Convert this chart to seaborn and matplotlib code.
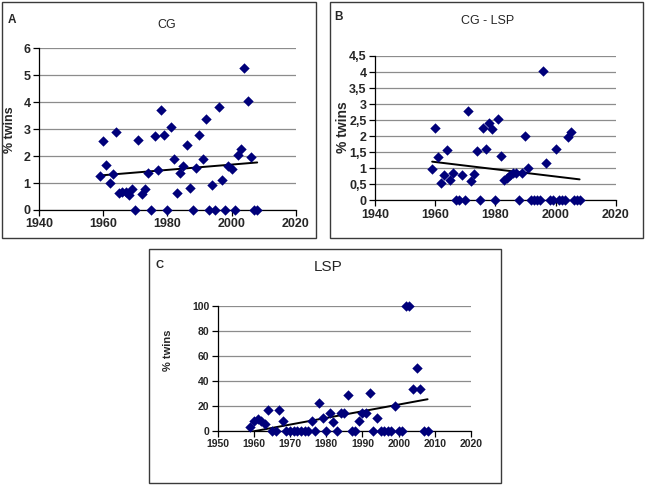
import numpy as np
import pandas as pd
import matplotlib
matplotlib.use("Agg")
import matplotlib.pyplot as plt
from matplotlib.patches import Rectangle
from matplotlib.ticker import FuncFormatter
import seaborn as sns

years = list(range(1959, 2009))

cg_values = [1.26, 2.56, 1.68, 1.0, 1.34, 2.91, 0.62, 0.68, 0.66, 0.55,
             0.77, 0.0, 2.6, 0.58, 0.77, 1.38, 0.0, 2.76, 1.5, 3.72,
             2.77, 0.0, 3.07, 1.88, 0.62, 1.36, 1.65, 2.41, 0.8, 0.0,
             1.55, 2.8, 1.88, 3.38, 0.0, 0.93, 0.0, 3.84, 1.1, 0.0,
             1.63, 1.52, 0.0, 2.03, 2.27, 5.26, 4.06, 1.97, 0.0, 0.0]

cglsp_values = [0.97, 2.25, 1.36, 0.53, 0.79, 1.57, 0.63, 0.84, 0.0, 0.0,
                0.8, 0.0, 2.8, 0.6, 0.82, 1.54, 0.0, 2.25, 1.61, 2.4,
                2.21, 0.0, 2.54, 1.38, 0.62, 0.69, 0.79, 0.86, 0.86, 0.0,
                0.86, 1.99, 1.0, 0.0, 0.0, 0.0, 0.0, 4.04, 1.15, 0.0,
                0.0, 1.6, 0.0, 0.0, 0.0, 1.96, 2.13, 0.0, 0.0, 0.0]

lsp_values = [3.2, 8.0, 9.0, 8.0, 5.5, 16.5, 0.0, 0.0, 16.5, 7.5,
              0.0, 0.0, 0.0, 0.0, 0.0, 0.0, 0.0, 8.0, 0.0, 22.4,
              10.2, 0.0, 14.4, 6.8, 0.0, 14.4, 14.4, 28.8, 0.0, 0.0,
              7.6, 14.0, 14.0, 29.8, 0.0, 9.9, 0.0, 0.0, 0.0, 0.0,
              19.8, 0.0, 0.0, 100.0, 100.0, 33.0, 50.0, 33.0, 0.0, 0.0]

panel_letters = ["A", "B", "C"]
panel_titles = ["CG", "CG - LSP", "LSP"]
y_label = "% twins"

cg_yticks = [0, 1, 2, 3, 4, 5, 6]
cglsp_yticks = [0, 0.5, 1, 1.5, 2, 2.5, 3, 3.5, 4, 4.5]
lsp_yticks = [0, 20, 40, 60, 80, 100]
ab_xticks = [1940, 1960, 1980, 2000, 2020]
c_xticks = [1950, 1960, 1970, 1980, 1990, 2000, 2010, 2020]

sns.set_theme(style="white")
plt.rcParams["font.family"] = ["Liberation Sans", "DejaVu Sans"]

W, H = 646, 488
fig = plt.figure(figsize=(W / 100, H / 100), dpi=100)

def fx(px):
    return px / W

def fy(py):
    return 1 - py / H

# panel frames
for (x0, y0, x1, y1) in [(2, 2, 316, 238), (330, 2, 643, 238), (149, 249, 501, 483)]:
    fig.add_artist(Rectangle((fx(x0), fy(y1)), fx(x1 - x0), (y1 - y0) / H,
                             transform=fig.transFigure, fill=False,
                             edgecolor="#3a3a3a", linewidth=1.0))

marker_color = "#00007a"

def draw_panel(rect, values, yticks, xticks, ylim, xlim, fs, yfmt=None):
    ax = fig.add_axes(rect)
    df = pd.DataFrame({"year": years, "pct": values})
    sns.regplot(data=df, x="year", y="pct", ax=ax, scatter=False, ci=None,
                truncate=True, color="black", line_kws={"linewidth": 1.4, "zorder": 3})
    sns.scatterplot(data=df, x="year", y="pct", ax=ax, marker="D", s=28,
                    color=marker_color, edgecolor=marker_color, linewidth=0,
                    zorder=4, clip_on=False)
    ax.set_xlim(*xlim)
    ax.set_ylim(*ylim)
    ax.set_xticks(xticks)
    ax.set_yticks(yticks)
    if yfmt:
        ax.yaxis.set_major_formatter(FuncFormatter(yfmt))
    ax.yaxis.grid(True, color="#8c8c8c", linewidth=0.9)
    ax.xaxis.grid(False)
    ax.set_axisbelow(True)
    for s in ["top", "right"]:
        ax.spines[s].set_visible(False)
    for s in ["left", "bottom"]:
        ax.spines[s].set_visible(True)
        ax.spines[s].set_color("black")
        ax.spines[s].set_linewidth(0.9)
    ax.tick_params(axis="both", which="major", direction="out", length=4,
                   width=0.9, color="black", labelsize=fs, pad=2,
                   bottom=True, left=True)
    for lab in ax.get_xticklabels() + ax.get_yticklabels():
        lab.set_fontweight("bold")
    ax.set_xlabel("")
    ax.set_ylabel("")
    return ax

axA = draw_panel([fx(39), fy(210), fx(295.7 - 39), (210 - 48.3) / H],
                 cg_values, cg_yticks, ab_xticks, (0, 6), (1940, 2020), 9)
axB = draw_panel([fx(375), fy(200.3), fx(615.7 - 375), (200.3 - 56) / H],
                 cglsp_values, cglsp_yticks, ab_xticks, (0, 4.5), (1940, 2020), 9,
                 yfmt=lambda v, p: ("%g" % v).replace(".", ","))
axC = draw_panel([fx(217.7), fy(430.7), fx(471 - 217.7), (430.7 - 305.7) / H],
                 lsp_values, lsp_yticks, c_xticks, (0, 100), (1950, 2020), 7.5)

# panel letters and titles
fig.text(fx(8), fy(20), panel_letters[0], fontsize=8.5, fontweight="bold", va="center")
fig.text(fx(334), fy(17), panel_letters[1], fontsize=8.5, fontweight="bold", va="center")
fig.text(fx(155), fy(265), panel_letters[2], fontsize=8, fontweight="bold", va="center")

fig.text(fx(167), fy(25), panel_titles[0], fontsize=9, ha="center", va="center")
fig.text(fx(488), fy(21), panel_titles[1], fontsize=9, ha="center", va="center")
fig.text(fx(328), fy(267), panel_titles[2], fontsize=11, ha="center", va="center")

fig.text(fx(10), fy(130), y_label, fontsize=9, fontweight="bold", rotation=90,
         ha="center", va="center")
fig.text(fx(343), fy(127), y_label, fontsize=10, fontweight="bold", rotation=90,
         ha="center", va="center")
fig.text(fx(168), fy(350), y_label, fontsize=8, fontweight="bold", rotation=90,
         ha="center", va="center")

fig.savefig("out.png", dpi=100, facecolor="white")
